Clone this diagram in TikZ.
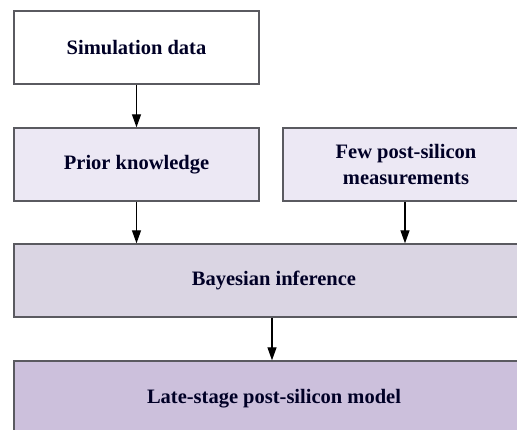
\documentclass[tikz,border=0pt]{standalone}
\usepackage{fontspec}
\setmainfont{Liberation Serif}
\usetikzlibrary{arrows.meta}
\definecolor{boxline}{HTML}{5A5A60}
\definecolor{fillA}{HTML}{ECE8F4}
\definecolor{fillB}{HTML}{DAD5E3}
\definecolor{fillC}{HTML}{CCC0DC}
\tikzset{
  stage/.style={draw=boxline, line width=1.4pt, rectangle, inner sep=0pt,
    font=\bfseries\fontsize{20.5}{26}\selectfont, align=center, text=black!85!blue},
  flow/.style={draw=black, line width=1.3pt, -{Triangle[length=13pt,width=9pt]}}
}
\begin{document}
\begin{tikzpicture}[x=1pt,y=-1pt]
  \useasboundingbox (0,0) rectangle (517,430);
  \clip (0,0) rectangle (517,430);
  \fill[white] (0,0) rectangle (517,430);
  % boxes, given by their pixel extents
  \node[stage, fill=white, minimum width=245pt, minimum height=73pt] (sim) at (136.5,47.5) {Simulation data};
  \node[stage, fill=fillA, minimum width=245pt, minimum height=73pt] (prior) at (136.5,164.5) {Prior knowledge};
  \node[stage, fill=fillA, minimum width=246pt, minimum height=73pt] (meas) at (406,164.5) {Few post-silicon\\measurements};
  \node[stage, fill=fillB, minimum width=520pt, minimum height=73pt] (bayes) at (274,280.5) {Bayesian inference};
  \node[stage, fill=fillC, minimum width=520pt, minimum height=76pt] (late) at (274,399) {Late-stage post-silicon model};
  % connectors
  \draw[flow] (sim.south) -- (prior.north);
  \draw[flow] (prior.south) -- (prior.south |- bayes.north);
  \draw[flow] (meas.south -| 405,0) -- (bayes.north -| 405,0);
  \draw[flow] (bayes.south -| 272,0) -- (late.north -| 272,0);
\end{tikzpicture}
\end{document}
